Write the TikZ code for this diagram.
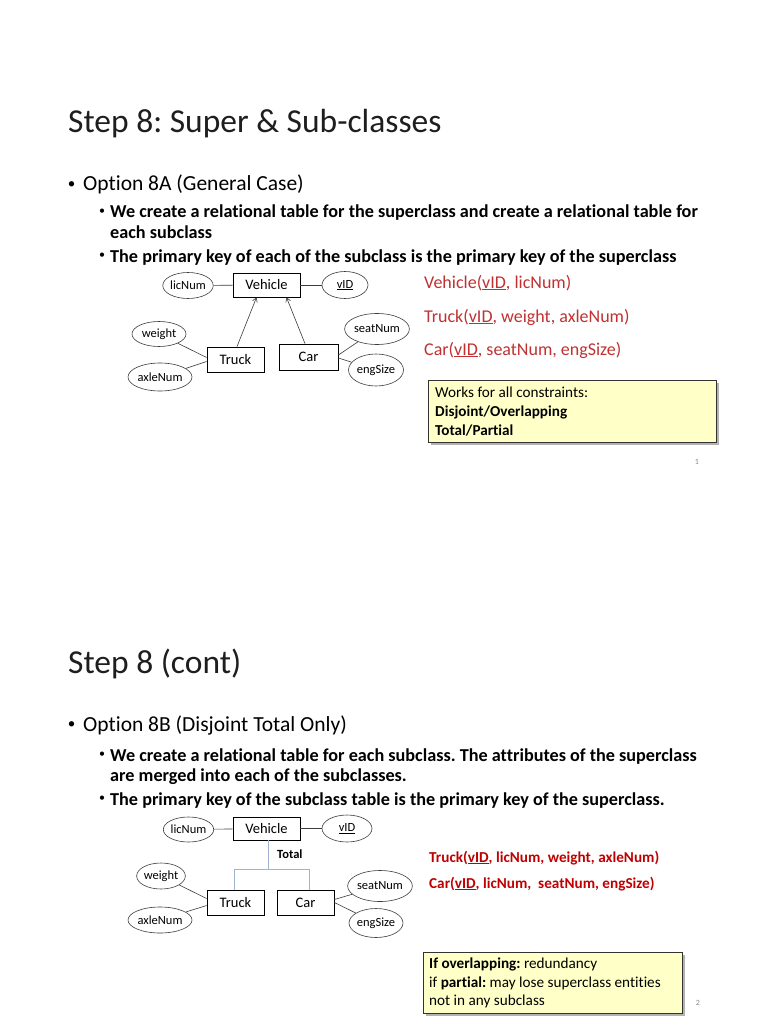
\documentclass[tikz,border=0pt]{standalone}
\usepackage{fontspec}
\setmainfont{Carlito}[Ligatures=NoCommon]
\usetikzlibrary{shapes.geometric,arrows.meta,shadows}
\definecolor{redtxt}{RGB}{192,50,50}
\definecolor{darkred}{RGB}{192,0,0}
\definecolor{treeblue}{RGB}{160,180,210}
\definecolor{noteyellow}{RGB}{255,255,200}
\definecolor{erline}{RGB}{60,60,60}
\definecolor{pgnum}{RGB}{140,140,140}
\definecolor{titlecol}{RGB}{30,30,30}
\frenchspacing
\begin{document}
\begin{tikzpicture}[x=1pt,y=-1pt,
  attr/.style={ellipse,draw=erline,line width=0.6pt,inner sep=0pt,font=\fontsize{12.5}{13}\selectfont},
  ent/.style={rectangle,draw=black,line width=0.8pt,inner sep=0pt,font=\fontsize{14.5}{15}\selectfont},
  conn/.style={draw=erline,line width=0.6pt},
  isa/.style={draw=erline,line width=0.6pt,-{Straight Barb[length=4pt,width=5pt]}},
  tree/.style={draw=treeblue,line width=1pt},
  txt/.style={anchor=base west,inner sep=0pt},
  title/.style={txt,text=titlecol,font=\fontsize{33.5}{40}\selectfont},
  lvlone/.style={txt,font=\fontsize{21.5}{26}\selectfont},
  bulone/.style={anchor=center,inner sep=0pt,font=\fontsize{15}{16}\selectfont},
  lvltwo/.style={txt,font=\bfseries\fontsize{18.2}{20}\selectfont},
  bultwo/.style={anchor=center,inner sep=0pt,font=\fontsize{12}{13}\selectfont},
  reltxt/.style={txt,text=redtxt,font=\fontsize{18}{20}\selectfont},
  relbold/.style={txt,text=darkred,font=\bfseries\fontsize{15.2}{18}\selectfont},
  note/.style={rectangle,draw=black!80,line width=0.8pt,fill=noteyellow,anchor=north west,inner sep=0pt,
    drop shadow={shadow xshift=2.5pt,shadow yshift=-2.5pt,opacity=0.3,fill=black}},
  notetxt/.style={txt,font=\fontsize{15.2}{18}\selectfont},
  pg/.style={anchor=center,inner sep=0pt,text=pgnum,font=\fontsize{8}{9}\selectfont}
]
\useasboundingbox (0,0) rectangle (768,1024);
\fill[white] (0,0) rectangle (768,1024);

% ================= Slide 1 =================
\node[title] (title1) at (68,133) {Step 8: Super \& Sub-classes};
\node[bulone] (b1) at (71.5,185) {•};
\node[lvlone] (o1) at (83,191) {Option 8A (General Case)};
\node[bultwo] (sb1) at (102,212) {•};
\node[lvltwo] (s1) at (110,218) {We create a relational table for the superclass and create a relational table for};
\node[lvltwo] (s1b) at (110,238) {each subclass};
\node[bultwo] (sb2) at (102,256) {•};
\node[lvltwo] (s2) at (110,262) {The primary key of each of the subclass is the primary key of the superclass};

\node[attr,minimum width=46pt,minimum height=26pt] (lic1) at (188,285.5) {licNum};
\node[ent,minimum width=67pt,minimum height=24pt] (veh1) at (266.5,285) {Vehicle};
\node[attr,minimum width=46pt,minimum height=27pt] (vid1) at (345,285) {\underline{vID}};
\node[attr,minimum width=54pt,minimum height=25pt] (wt1) at (159,334) {weight};
\node[attr,minimum width=64pt,minimum height=28pt] (ax1) at (160,377) {axleNum};
\node[ent,minimum width=57pt,minimum height=25pt] (tr1) at (235.5,359.5) {Truck};
\node[ent,minimum width=59pt,minimum height=26pt] (car1) at (308.5,357) {Car};
\node[attr,minimum width=54pt,minimum height=31pt] (seat1) at (377,329) {seatNum};
\node[attr,minimum width=55pt,minimum height=32pt] (eng1) at (376,370) {engSize};

\draw[conn] (lic1) -- (veh1);
\draw[conn] (vid1) -- (veh1);
\draw[conn] (wt1) -- ([yshift=2pt]tr1.west);
\draw[conn] (ax1) -- ([yshift=-2pt]tr1.west);
\draw[conn] (seat1) -- ([yshift=2pt]car1.east);
\draw[conn] (eng1) -- ([yshift=-1pt]car1.east);
\draw[isa] ([xshift=1.5pt]tr1.north) -- ([xshift=-10pt]veh1.south);
\draw[isa] ([xshift=-3.5pt]car1.north) -- ([xshift=20pt]veh1.south);

\node[reltxt] (r1) at (424,288) {Vehicle(\underline{vID}, licNum)};
\node[reltxt] (r2) at (424,322) {Truck(\underline{vID}, weight, axleNum)};
\node[reltxt] (r3) at (424,355) {Car(\underline{vID}, seatNum, engSize)};

\node[note,minimum width=288pt,minimum height=62pt] (n1) at (428,380) {};
\node[notetxt] (n1a) at (435,397) {Works for all constraints:};
\node[notetxt,font=\bfseries\fontsize{15.2}{18}\selectfont] (n1b) at (435,416) {Disjoint/Overlapping};
\node[notetxt,font=\bfseries\fontsize{15.2}{18}\selectfont] (n1c) at (435,435) {Total/Partial};
\node[pg] (p1) at (697,462) {1};

% ================= Slide 2 =================
\node[title] (title2) at (68,673) {Step 8 (cont)};
\node[bulone] (b2) at (71.5,725) {•};
\node[lvlone] (o2) at (83,731) {Option 8B (Disjoint Total Only)};
\node[bultwo] (sb3) at (102,755) {•};
\node[lvltwo] (s3) at (110,761) {We create a relational table for each subclass. The attributes of the superclass};
\node[lvltwo] (s3b) at (110,781) {are merged into each of the subclasses.};
\node[bultwo] (sb4) at (102,799) {•};
\node[lvltwo] (s4) at (110,805) {The primary key of the subclass table is the primary key of the superclass.};

\node[attr,minimum width=47pt,minimum height=25pt] (lic2) at (188.5,829.5) {licNum};
\node[ent,minimum width=67pt,minimum height=23pt] (veh2) at (266.5,828.5) {Vehicle};
\node[attr,minimum width=50pt,minimum height=27pt] (vid2) at (347,828.5) {\underline{vID}};
\node[txt,font=\bfseries\fontsize{12.5}{14}\selectfont] (tot) at (277,858) {Total};
\node[attr,minimum width=48pt,minimum height=26pt] (wt2) at (161,876) {weight};
\node[attr,minimum width=64pt,minimum height=26pt] (ax2) at (160,920) {axleNum};
\node[ent,minimum width=57pt,minimum height=25pt] (tr2) at (235.5,902.5) {Truck};
\node[ent,minimum width=57pt,minimum height=25pt] (car2) at (305.5,902.5) {Car};
\node[attr,minimum width=54pt,minimum height=31pt] (seat2) at (380,886) {seatNum};
\node[attr,minimum width=54pt,minimum height=29pt] (eng2) at (376,923) {engSize};

\coordinate (jn) at (268,869);
\draw[tree] (veh2.south -| jn) -- (jn);
\draw[tree] (tr2.north -| 234,0) |- (jn) -| (car2.north -| 309,0);

\draw[conn] (lic2) -- (veh2);
\draw[conn] (vid2) -- (veh2);
\draw[conn] (wt2) -- ([yshift=4pt]tr2.west);
\draw[conn] (ax2) -- ([yshift=-3pt]tr2.west);
\draw[conn] (seat2) -- ([yshift=3pt]car2.east);
\draw[conn] (eng2) -- ([yshift=0pt]car2.east);

\node[relbold] (r4) at (429,862) {Truck(\underline{vID}, licNum, weight, axleNum)};
\node[relbold] (r5) at (429,888) {Car(\underline{vID}, licNum,\ \ seatNum, engSize)};

\node[note,minimum width=259pt,minimum height=61pt] (n2) at (423,952) {};
\node[notetxt] (n2a) at (429,968) {\textbf{If overlapping:} redundancy};
\node[notetxt] (n2b) at (429,987) {if \textbf{partial:} may lose superclass entities};
\node[notetxt] (n2c) at (429,1005) {not in any subclass};
\node[pg] (p2) at (698,1003) {2};
\end{tikzpicture}
\end{document}
